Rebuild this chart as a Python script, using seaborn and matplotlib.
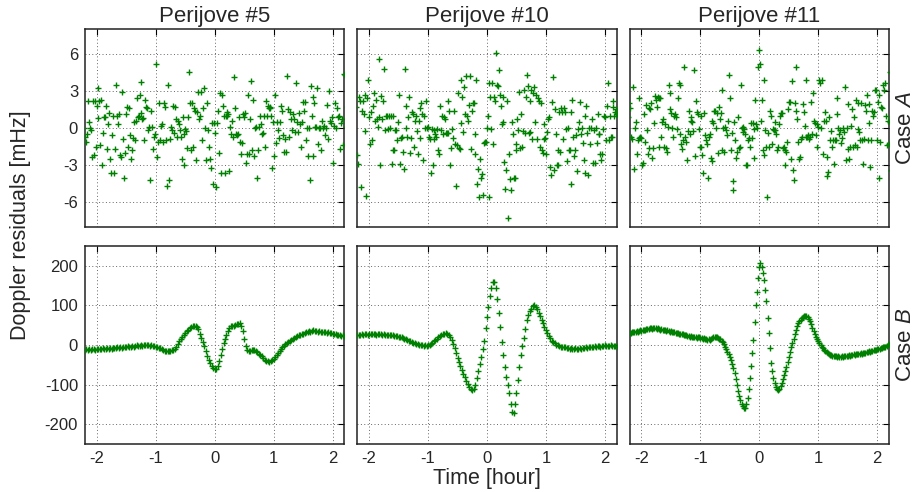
import numpy as np
import matplotlib
matplotlib.use("Agg")
import matplotlib.pyplot as plt
import seaborn as sns

# ---- data ----
titles = ["Perijove #5", "Perijove #10", "Perijove #11"]
row_labels = ["Case $\\it{A}$", "Case $\\it{B}$"]
xticks = [-2, -1, 0, 1, 2]
yticks_a = [-6, -3, 0, 3, 6]
yticks_b = [-200, -100, 0, 100, 200]

# time span of each series [hour]
span_a = (-2.22, 2.24)
span_b = (-2.2, 2.2)

# Case A residuals [mHz]
case_a_pj05 = [
    0, -0.7, -1.1, -0.5, 2.2, 0.5, 0, -0.2, -2.35, 2.2, -2.2,
    2.2, -1.5, 1.8, 3.2, 0.8, 2.2, -1.4, 2.3, -3, -0.4, 0.9, 0.9, 1.8,
    -1.7, 0.35, 1.2, -2.5, -3.6, -0.6, 1, -3.6, -1.7, 3.5, 1, 0.35, 1.1, -2.2, -2.35,
    2.9, -0.9, -4, -2, 1.1, 1.7, -1.5, 1.6, -0.6, -2.5, -1.8, -0.8, 0.5, -1,
    0.6, 2.4, 0.9, 1, 2.7, 1.2, 3.7, 0.7, 0.8, -1, 2.3, 1.7, 1.6,
    -0.2, 0.1, -4.2, 1.35, 0.1, -1.7, -0.7, -0.5, 5.2, -2.35, -1.1, 2, -1,
    0.2, 0.35, -1.1, 2, 1.7, -1, -4.7, 3.5, -4.2, -0.9, 0.1, -0.2,
    1.8, -0.4, 1.7, 0.75, -0.7, 0.6, 0.35, -0.2, -0.7, -2.5, 0.9, -2.95, -0.5,
    -0.1, -0.25, -1.6, 0.9, 4.5, 2, -1.8, 2, -1.5, 1.6, 1.4,
    -2.6, 1.3, 2.9, 0.75, 0.95, 2.9, -1, 1.6, 3.2, 0, -2.6,
    2, -0.2, -1.5, -2.5, -3.2, 0.4, -4.5, 0.4, -0.4, -4.8, 0.4, 1.4, -2, 2.8, -3.6, 2.7,
    1.8, 1, -3.6, 0.95, 1.3, 1, 1.15, -3.5, 0.1, -0.5, 0.55, -0.7, 4.1, 1.6, -0.5, -0.6, -0.5,
    0.85, -1.1, -2.1, -1.2, 1.1, 0.9, 1.2, -2.8, -2.1, 2.7, -2.1, 0.7, 3.8, -1.8, 2.3, -2.3,
    0, 0.1, -4, -1.8, 0.1, 0.95, 0.3, -0.5, -0.4, 0.95, -1.5, 2.2, 0.95, 1.8, 1.6,
    1.7, 1.6, 0.95, -3.2, 0.5, -2.3, 2.7, -1.2, 0.5, -0.2, -0.8, 0.5, 1.8, 1.4,
    -0.6, -1.95, -0.9, -1.95, 4.2, 1.5, -0.7, 1.3, 0.7, -0.2, 1.1, 0.7, -0.3, 3.6, 0.5, -0.3,
    1.2, 0.35, -1.5, 0.5, 2.1, 1.4, 2.1, -0.95, 0, -2.3, 0, -4.2, 3.4,
    0.95, -2.3, 2.5, 2, 0.1, 0.1, 3.2, -1.3, 0, 0, -1.8, 0.6, 0, 0.2, -0.6,
    0, 1.9, -0.9, 3, 0.6, 0.4, 0.9, -2.8, 0.2, 2, 0, 1.6, 0.9, 0.95,
    -1.7, 0.4, 0.75, -1.4, 4.4, 4.3, 0.1, 1.7,
]
case_a_pj10 = [
    1.7, -2.2, -2.9, 2.5, 2.2, -4.8, 1.4, 2.2, 1.15, -0.25, 2.65, -5.5, 2.4, 3.9,
    0.85, -1.3, 1.3, -1, 1.8, 2.8, 0.6, 2.3, 0.75, 0.1, 0.9, 5.6, -2.95, 2.6, 0.75, 2.2,
    4.8, -0.2, 0.95, 0.95, -0.1, 0.95, 0, 0.95, -2.9, 0.95, -1.8, -1.75, -0.2, -0.2,
    -1, 0.5, 2.7, -2.9, -0.8, -0.7, -1.95, -3.3, 4.8, 1.8, 0, -0.7, 0.85, 2.5, -2,
    -0.8, 1.3, 1.15, -1.5, 0.6, 0.95, -0.25, -2.1, 0.6, -0.8, 1.6, 2, 1.1, -2.6,
    0.95, 0, 2.2, 0, 0.1, -0.7, -0.9, -3.6, -0.1, -3, -0.2, -0.9, -0.5, -0.7, -0.1,
    -1.8, -2.1, 1.8, -0.2, 0.95, -0.5, 0.85, 0.75, -0.4, -0.4, 2.2, -0.4, 1.35, -3, -1.6,
    -0.1, -0.8, 1.4, -1.3, -4.7, -1.4, 2.85, -1.6, -1.7, 0.4, 3.9, 2.5, -0.3,
    3.3, 1.15, 4.2, 0.95, 0.6, 1.9, 4.2, -1.7, 1.35, 2, 2, -0.5, -2.1, 3.9,
    -4.5, -3.3, -5.6, -2.5, -4, -3.75, -5.45, -1.2, -1.1, -1.1, 0, 0.95,
    -5.6, 3.6, 2.5, -0.1, 3.65, -1.3, 2.5, 2.2, 6.1, 3.45, 3.4, 4.7, 2.7, 1.75, 0.35, 2.5, 0.5,
    -2.75, -4.9, -3.4, 2.2, -7.3, -2.1, -4.1, -5, 0.5, -0.5, -4, -4, -1.3,
    -1.8, 0.75, -0.2, 2.9, -1.6, 1.15, -1.5, -0.25, 3.05, -0.4, 2.5, 4.3, 3.4, -0.4, 2.2, -0.3,
    3.1, -0.9, 2.8, 3.3, 0.5, 2.65, -0.9, 2.45, 2.2, -1.5, 2, -1.8, -2, -0.9, 0.35,
    -0.8, -2.1, -0.3, 0.7, 0.85, -3.15, -3.8, 2.1, 4.1, -3.4, 1.5, -0.5, -3, -2.95,
    -1.8, 1.3, -1.95, 1.6, 1.3, -0.9, 1.6, 1.3, -0.1, -2.7, 0, -1.8, -1.8, -4.5, 1.3,
    2.3, -0.7, -2.3, -1.8, -0.6, -3.5, -0.1, 0.5, 2.1, -0.5, 0, -1.2, -2.6, 0.95,
    -3.6, 1.8, -0.4, -3.8, 0, -1.3, 0, 0.7, -2.8, -0.2, -2.8, 0, -1.2,
    1.15, -0.5, -0.5, -2.1, -2.6, -2.1, -0.1, 1, 0.85, -0.95, 1.75, 3.65, -1, 0.95, -0.7,
    -0.7, 2.2, 1.7, 0.95, 1.3, 1.5, 1.1, 0.95, 1.1,
]
case_a_pj11 = [
    0.85, 2, 1.6, -0.7, -0.9, 3.3, -3.3, 0, 0.5, -2.1, -1, 2.45, -0.8, -0.7, -0.8, -2.95,
    -2.85, 1.1, -1.1, 1.85, -0.2, -2.1, 1.6, -1.6, 1.5, 2, -2.4, -1.6, 0.4, 2.55, 2.3, 1.7,
    2.5, -1.5, 2.4, 2.45, -0.7, 0.5, 0.7, -1.5, 0.35, -1.6, -1.95, 0.1, 3.45, 2.85, 1.5,
    1.2, 0, -0.7, 0.95, 1.1, 0.85, -0.1, 2.45, 3.6, -0.5, 3.45, -1.3, -1.7, -0.95, 4.9,
    -0.7, -1.1, -2.6, -0.25, 1.4, -0.5, 0.85, 0.6, 0.5, -0.25, 4.7, -2.3, 2.2, 1.3,
    1.1, -0.1, -1.5, 0.95, -1.55, -2.2, -3.65, 1.2, -0.6, -0.95, -1.3, -4, -0.7, -0.5,
    -2.4, 0.6, -2.7, 0.4, 1.4, 1.4, 0, 1.2, -2, 1.7, 0.7, 1.2, -1.8, 3.05, 0,
    -1.9, 0.1, -0.2, -0.6, 0.6, 4.3, 2.4, -1.75, -0.4, -4.25, -5, 0.5, -0.95, -2.4, -1.95,
    0.85, -1.6, -1.55, 3.45, 0, -0.3, 0.1, -0.1, -0.5, -3, -3, -1, -0.8, -1.5,
    0.4, -0.8, 0.4, -2.4, -0.1, 2.25, 0.3, 0, 4.9, 6.3,
    5.2, 0.6, 2.25, -1.8, -2.2, 3.85, -0.2, -1.5, -5.6, -0.4, -1.5, 1.4, 0.95, -1.3, -0.1,
    -0.2, 0.5, -0.2, -0.5, -1.8, -1.5, 0.35, 1, 1.2, 1.2, -1.6, -1.55, -1.8, -2.95,
    -1.95, -1.1, 1.5, 2.1, 2.1, -2.5, 3.8, -3.4, -4.2, 2, 1.4, 4.95, 0.75, -1.1, -2.5, -2.35,
    -0.85, -0.7, 1.95, 1.3, 0.2, -0.7, 3.9, -0.7, -0.6, -0.85, -0.7, 2.1, -0.5, 2.8, 0.55,
    0.4, -0.6, -1.5, 0.35, 0.1, 3.9, 3.6, 0, 3.9, -2.1, 0.55, 1.3, 0.6, -3.9, -2.35, -3.55,
    0.85, -1, -0.25, -1.55, -1, -2.9, -1, -0.95, 2.4, 1.15, 0, -0.5, -0.2, -1.2, -0.8,
    0, -0.3, 3.3, -2.6, 0, 1.95, -1.7, -2.5, -1.5, 0.2, 1.55, -1.5, 0.85, -1.4, 2.3,
    -1.5, 2, -0.1, -0.3, -1, 2, -0.95, -2.9, -0.85, 1.85, 1.4, 2.65, -0.95, 1.95, 0.4, -3.15,
    -0.95, 1.4, 1, 1.3, 3.05, 3.1, -1, 2.1, 2.65, -4, -1.1, 1.7, 1.6, 3.45, 3.1,
    3.6, 1, -1.4, 0.55, -1.3, 0.5, 4.5, -3.4,
]

# Case B residuals [mHz]
case_b_pj05 = [
    -12, -11, -13, -10, -12, -11, -9, -12, -10, -11, -9, -10, -8, -11, -9, -8, -10, -7, -9, -8, -7,
    -8, -6, -8, -5, -7, -5, -4, -6, -3, -5, -4, -2, -4, -3, -1, -3, -2, 0, -2, -1,
    0, -1, 1, -2, -1, -3, -2, -5, -4, -7, -8, -11, -12, -14, -15, -16,
    -16, -15, -13, -12, -9, -4, 3, 10, 16, 21, 26, 31,
    35, 39, 43, 46, 48, 49, 47, 45, 40, 28, 18, 8,
    -3, -15, -27, -37, -46, -53, -58, -61, -60, -52, -40, -25,
    -10, 4, 16, 26, 35, 43, 47, 49, 48, 50, 52, 54, 55, 48,
    35, 15, -3, -12, -16, -15, -13, -12, -13, -15, -18, -22, -25, -29,
    -33, -37, -40, -41, -42, -40, -39, -36, -31, -26, -21, -16, -11, -6, -2, 2,
    5, 8, 11, 13, 16, 18, 20, 22, 24, 26, 27, 29, 31, 32, 34, 35, 34, 36, 37, 35,
    36, 34, 35, 33, 34, 32, 33, 31, 32, 30, 31, 29, 28, 27, 25, 26, 24, 23, 24, 22,
]
case_b_pj10 = [
    24, 26, 25, 27, 26, 28, 27, 26, 28, 27, 29, 27, 28, 26, 28, 27, 28, 26, 27, 25, 26,
    25, 26, 24, 24, 23, 22, 22, 21, 20, 19, 17, 16, 14, 12, 11, 9, 8, 6, 5, 3,
    2, 0, 1, -1, -2, -1, -2, 0, 1, 3, 6, 9, 13, 16, 19, 22,
    25, 27, 29, 30, 29, 26, 20, 12, 3, -8, -20, -32,
    -43, -54, -64, -73, -82, -90, -98, -105, -110, -114, -112, -100,
    -83, -66, -48, -30, -10, 10, 42, 70, 97, 123, 145, 160,
    158, 143, 115, 82, 45, 8, -25, -55, -80, -100, -122, -148, -170, -172,
    -150, -122, -88, -55, -25, -3, 18, 40, 62, 76, 85, 92, 98, 101,
    97, 90, 82, 73, 63, 55, 46, 38, 30, 23, 17, 11, 7, 4, 1, -1,
    -2, -4, -5, -6, -5, -7, -8, -9, -8, -10, -9, -8, -10, -9, -8, -9, -7, -8, -6, -7,
    -5, -6, -4, -5, -3, -4, -2, -3, -4, -2, -3, -1, -2, -3, -2, -1, -3, -2, -3, -2,
]
case_b_pj11 = [
    30, 31, 32, 33, 32, 34, 35, 34, 36, 37, 36, 38, 39, 38, 40, 41, 40, 42, 43, 41, 42, 43, 42, 41, 42, 40,
    39, 40, 38, 39, 37, 36, 37, 35, 34, 35, 33, 32, 33, 31, 30, 31, 29, 28, 27, 28, 26, 25, 24, 23, 22,
    21, 22, 20, 21, 19, 20, 18, 19, 20, 18, 17, 16, 17, 15, 14, 13, 14, 13, 15, 17,
    19, 20, 20, 19, 18, 16, 14, 11, 7, 2, -4, -10, -17, -23, -30,
    -38, -47, -57, -70, -86, -102, -116, -128, -139, -148, -155, -159, -158, -150, -134,
    -110, -84, -54, -20, 13, 58, 100, 135, 168, 198, 208, 196, 183, 165, 140,
    110, 68, 30, -8, -45, -66, -84, -97, -106, -112, -113, -110, -104, -96, -86,
    -76, -66, -56, -44, -30, -17, -5, 5, 16, 28, 39, 48, 55, 60, 64, 68, 71, 73, 74, 73,
    70, 66, 61, 52, 43, 35, 28, 21, 15, 10, 5, 0, -4, -8, -12, -15, -18, -21, -23, -25,
    -26, -27, -28, -29, -28, -30, -29, -31, -30, -29, -30, -28, -29, -27, -28, -26, -27, -25, -26, -24, -25, -23, -24, -22, -23,
    -21, -22, -20, -19, -20, -18, -17, -16, -17, -15, -14, -13, -12, -13, -11, -10, -9, -8, -7, -6, -5, -4, -3, -1, 2,
]

case_a = [case_a_pj05, case_a_pj10, case_a_pj11]
case_b = [case_b_pj05, case_b_pj10, case_b_pj11]

# ---- style ----
sns.set_style("white")
plt.rcParams["font.family"] = ["Liberation Sans", "DejaVu Sans"]
plt.rcParams["mathtext.fontset"] = "custom"
plt.rcParams["mathtext.rm"] = "Liberation Sans"
plt.rcParams["mathtext.it"] = "Liberation Sans:italic"
plt.rcParams["axes.unicode_minus"] = False

fig, axes = plt.subplots(2, 3, figsize=(9.22, 4.92), dpi=100)
fig.subplots_adjust(left=0.0922, right=0.9642, top=0.941, bottom=0.0976,
                    wspace=0.05, hspace=0.096)

for row, (data, lim, yt) in enumerate([(case_a, 8, yticks_a), (case_b, 250, yticks_b)]):
    span = span_a if row == 0 else span_b
    for col in range(3):
        ax = axes[row, col]
        vals = data[col]
        t = np.linspace(span[0], span[1], len(vals))
        sns.scatterplot(x=t, y=vals, ax=ax, marker="+", color="#008000",
                        s=22, linewidth=1.0, zorder=3)
        ax.set_xlim(-2.2, 2.2)
        ax.set_ylim(-lim, lim)
        ax.set_xticks(xticks)
        ax.set_yticks(yt)
        ax.grid(True, linestyle=(0, (1, 2.5)), color="#666666", linewidth=0.7)
        ax.tick_params(direction="in", top=True, right=True, length=4,
                       width=0.8, labelsize=12, pad=5, color="black")
        for sp in ax.spines.values():
            sp.set_color("#222222")
            sp.set_linewidth(1.1)
        if row == 0:
            ax.tick_params(labelbottom=False)
            ax.set_title(titles[col], fontsize=16, pad=5)
        if col > 0:
            ax.tick_params(labelleft=False)

fig.text(0.022, 0.543, "Doppler residuals [mHz]", rotation=90,
         ha="center", va="center", fontsize=15.5)
fig.text(0.528, 0.028, "Time [hour]", ha="center", va="center", fontsize=15.5)
fig.text(0.982, 0.74, row_labels[0], rotation=90, ha="center", va="center", fontsize=16)
fig.text(0.982, 0.299, row_labels[1], rotation=90, ha="center", va="center", fontsize=16)

fig.savefig("out.png", dpi=100)
